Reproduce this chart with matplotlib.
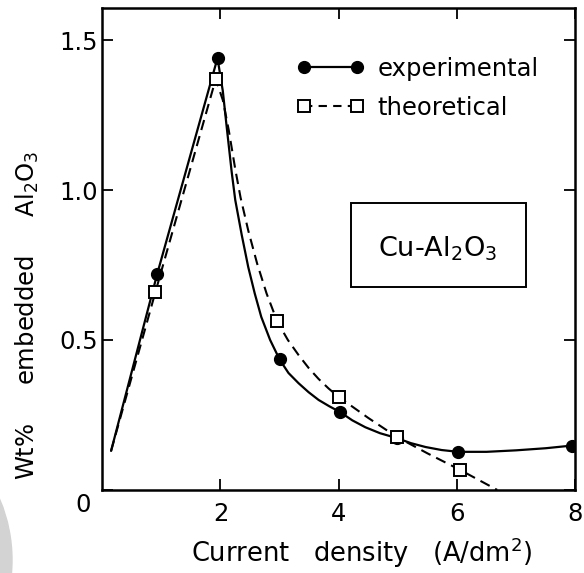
import numpy as np
import matplotlib
matplotlib.use('Agg')
import matplotlib.pyplot as plt
from matplotlib.patches import Rectangle, Circle

plt.rcParams['mathtext.default'] = 'regular'
plt.rcParams['font.family'] = 'DejaVu Sans'

# measured / calculated points (current density A/dm2, wt% Al2O3)
exp_x = [0.93, 1.95, 3.00, 4.02, 4.98, 6.02, 7.95]
exp_y = [0.72, 1.44, 0.435, 0.26, 0.173, 0.127, 0.148]
theo_x = [0.90, 1.92, 2.96, 4.00, 4.98, 6.05]
theo_y = [0.66, 1.37, 0.562, 0.31, 0.177, 0.067]

# curves
exp_curve_x = [0.15, 0.93, 1.95, 2.04, 2.10, 2.19, 2.25, 2.36, 2.47, 2.58,
               2.69, 2.84, 3.00, 3.15, 3.32, 3.49, 3.66, 3.84, 4.02, 4.23,
               4.45, 4.70, 4.98, 5.22, 5.47, 5.74, 6.02, 6.5, 7.0, 7.5, 7.95]
exp_curve_y = [0.13, 0.72, 1.44, 1.33, 1.22, 1.06, 0.967, 0.85, 0.743, 0.655,
               0.577, 0.50, 0.435, 0.39, 0.356, 0.326, 0.30, 0.279, 0.26, 0.232,
               0.209, 0.189, 0.173, 0.156, 0.143, 0.133, 0.127, 0.127, 0.132, 0.139, 0.148]
theo_curve_x = [0.15, 0.90, 1.92, 2.04, 2.14, 2.25, 2.34, 2.47, 2.62, 2.78,
                2.96, 3.14, 3.32, 3.49, 3.66, 3.83, 4.00, 4.50, 4.98, 5.50,
                6.05, 6.68]
theo_curve_y = [0.13, 0.66, 1.37, 1.30, 1.20, 1.07, 0.975, 0.865, 0.755, 0.655,
                0.562, 0.50, 0.45, 0.407, 0.37, 0.338, 0.31, 0.24, 0.177, 0.122,
                0.067, 0.0]

xticks = [2, 4, 6, 8]
yticks = [0, 0.5, 1.0, 1.5]
yticklabels = ['', '0.5', '1.0', '1.5']

fig = plt.figure(figsize=(5.84, 5.73), dpi=100)
ax = fig.add_axes([0.175, 0.145, 0.81, 0.841])

fs = 17.5
ax.plot(exp_curve_x, exp_curve_y, color='black', lw=1.6, solid_capstyle='round',
        solid_joinstyle='round')
ax.plot(theo_curve_x, theo_curve_y, color='black', lw=1.5, ls=(0, (5, 3)))
ax.plot(exp_x, exp_y, ls='none', marker='o', ms=8.5, color='black')
ax.plot(theo_x, theo_y, ls='none', marker='s', ms=8, mfc='white', mec='black', mew=1.4)

# legend handles
h1, = ax.plot([], [], color='black', lw=1.6, marker='o', ms=8.5)
h2, = ax.plot([], [], color='black', lw=1.5, ls=(0, (4, 3)), marker='s', ms=8,
              mfc='white', mec='black', mew=1.4)
ax.legend([h1, h2], ['experimental', 'theoretical'], loc='upper left',
          bbox_to_anchor=(0.412, 0.899), frameon=False, numpoints=2,
          handlelength=2.78, handletextpad=0.52, labelspacing=0.62,
          borderpad=0, borderaxespad=0, fontsize=fs)

# sample box
ax.add_patch(Rectangle((4.2, 0.677), 2.97, 0.28, fill=False, lw=1.4, ec='black'))
ax.text(5.68, 0.805, 'Cu-Al$_2$O$_3$', ha='center', va='center', fontsize=19.5)

ax.set_xlim(0, 8)
ax.set_ylim(0, 1.607)
ax.set_xticks(xticks)
ax.set_yticks(yticks)
ax.set_yticklabels(yticklabels)
ax.tick_params(direction='in', length=8, width=1.3, top=True, right=True,
               labelsize=fs)
ax.tick_params(axis='x', pad=9)
ax.tick_params(axis='y', pad=3)
for sp in ax.spines.values():
    sp.set_linewidth(1.8)

# shared origin label
ax.text(-0.32, -0.05, '0', ha='center', va='center', fontsize=fs)

fig.text(0.619, 0.035, 'Current   density   (A/dm$^2$)', ha='center', va='center',
         fontsize=18.5)
fig.text(0.047, 0.45, 'Wt%     embedded     Al$_2$O$_3$', ha='center', va='center',
         rotation=90, fontsize=fs)

# scan smudge in the corner
fig.patches.append(Circle((-144, 13), 156, transform=None, color='#d3d3d3',
                          zorder=-1))

fig.savefig('out.png', dpi=100)
